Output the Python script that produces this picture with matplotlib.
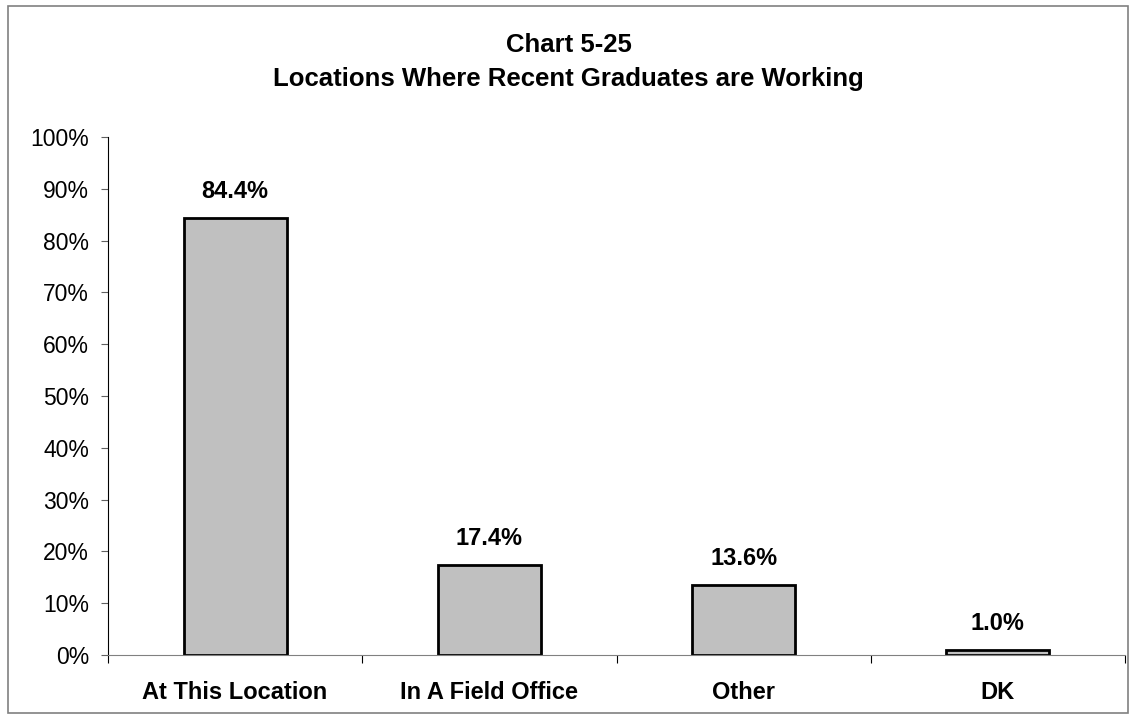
import matplotlib
matplotlib.use("Agg")
import matplotlib.pyplot as plt
from matplotlib.patches import Rectangle
from matplotlib.ticker import FuncFormatter, FixedLocator

categories = ["At This Location", "In A Field Office", "Other", "DK"]
values = [84.4, 17.4, 13.6, 1.0]
yticks = list(range(0, 101, 10))

plt.rcParams['font.family'] = ['Liberation Sans', 'DejaVu Sans']

fig = plt.figure(figsize=(11.37, 7.22), dpi=100)
# outer chart border
fig.patches.append(Rectangle((8 / 1137, 1 - 713 / 722), 1120 / 1137, 707 / 722,
                             transform=fig.transFigure, fill=False,
                             edgecolor='#808080', linewidth=1.2))

ax = fig.add_axes([108 / 1137, 1 - 655 / 722, 1017 / 1137, 518 / 722])
x = list(range(len(categories)))
bars = ax.bar(x, values, width=0.405, color='#c0c0c0', edgecolor='black', linewidth=2)

for xi, v in zip(x, values):
    ax.annotate(f"{v:.1f}%", (xi, v), xytext=(0, 26), textcoords='offset pixels',
                ha='center', va='center', fontsize=17, fontweight='bold')

ax.set_xlim(-0.5, len(categories) - 0.5)
ax.set_ylim(0, 100)
ax.set_yticks(yticks)
ax.yaxis.set_major_formatter(FuncFormatter(lambda v, p: f"{int(v)}%"))
ax.tick_params(axis='y', labelsize=16.5, length=5, direction='out', color='#606060', pad=8.5)

# category boundary ticks, labels centred under bars
ax.xaxis.set_major_locator(FixedLocator([i - 0.5 for i in range(len(categories) + 1)]))
ax.set_xticklabels([])
ax.xaxis.set_minor_locator(FixedLocator(x))
ax.set_xticklabels(categories, minor=True, fontsize=17, fontweight='bold')
ax.tick_params(axis='x', which='major', length=6, direction='out', color='black')
ax.tick_params(axis='x', which='minor', length=0, pad=18.5)

for s in ['top', 'right']:
    ax.spines[s].set_visible(False)
ax.spines['left'].set_color('black')
ax.spines['bottom'].set_color('#808080')

fig.text(0.5, 1 - 52 / 722, "Chart 5-25", ha='center', va='baseline',
         fontsize=18.5, fontweight='bold')
fig.text(0.5, 1 - 86 / 722, "Locations Where Recent Graduates are Working",
         ha='center', va='baseline', fontsize=18.5, fontweight='bold')

fig.savefig("out.png", dpi=100)
